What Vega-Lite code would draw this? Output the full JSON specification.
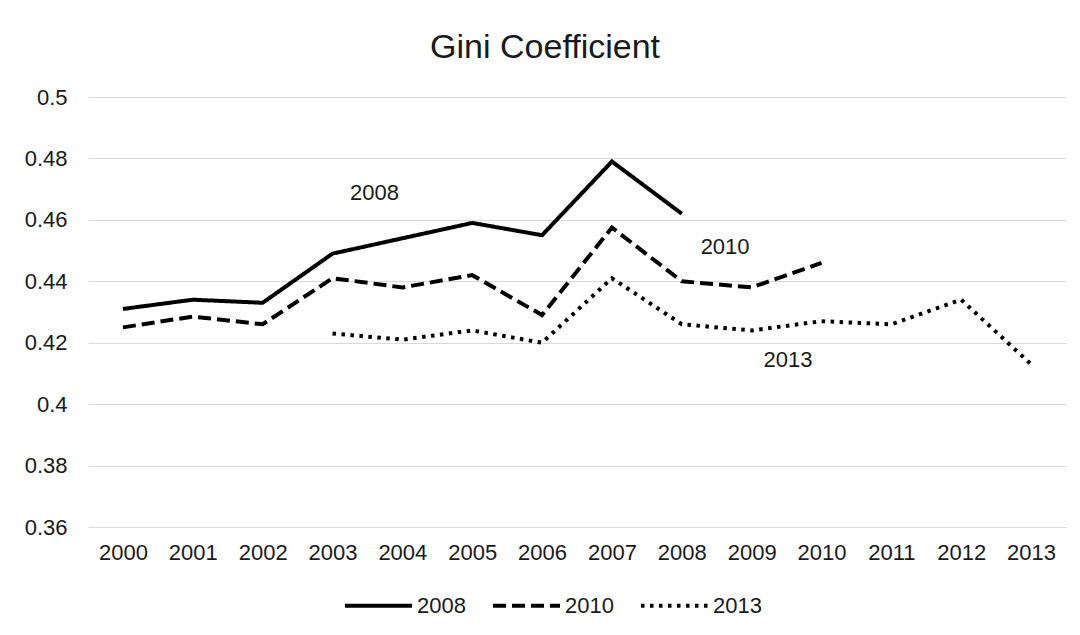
{
  "$schema": "https://vega.github.io/schema/vega-lite/v6.json",
  "autosize": "none",
  "width": 978,
  "height": 430,
  "padding": {"left": 88, "top": 97, "right": 14, "bottom": 108},
  "background": "white",
  "config": {"view": {"stroke": null}, "font": "Liberation Sans"},
  "title": {"text": "Gini Coefficient", "fontSize": 34, "font": "Liberation Sans", "fontWeight": "normal", "color": "#1a1a1a", "frame": "bounds", "anchor": "middle", "offset": 21},
  "datasets": {
    "gini": [
      {"series": "2008", "year": 2000, "value": 0.431},
      {"series": "2008", "year": 2001, "value": 0.434},
      {"series": "2008", "year": 2002, "value": 0.433},
      {"series": "2008", "year": 2003, "value": 0.449},
      {"series": "2008", "year": 2004, "value": 0.454},
      {"series": "2008", "year": 2005, "value": 0.459},
      {"series": "2008", "year": 2006, "value": 0.455},
      {"series": "2008", "year": 2007, "value": 0.479},
      {"series": "2008", "year": 2008, "value": 0.462},
      {"series": "2010", "year": 2000, "value": 0.425},
      {"series": "2010", "year": 2001, "value": 0.4285},
      {"series": "2010", "year": 2002, "value": 0.426},
      {"series": "2010", "year": 2003, "value": 0.441},
      {"series": "2010", "year": 2004, "value": 0.438},
      {"series": "2010", "year": 2005, "value": 0.442},
      {"series": "2010", "year": 2006, "value": 0.429},
      {"series": "2010", "year": 2007, "value": 0.4575},
      {"series": "2010", "year": 2008, "value": 0.440},
      {"series": "2010", "year": 2009, "value": 0.438},
      {"series": "2010", "year": 2010, "value": 0.446},
      {"series": "2013", "year": 2003, "value": 0.423},
      {"series": "2013", "year": 2004, "value": 0.421},
      {"series": "2013", "year": 2005, "value": 0.424},
      {"series": "2013", "year": 2006, "value": 0.420},
      {"series": "2013", "year": 2007, "value": 0.441},
      {"series": "2013", "year": 2008, "value": 0.426},
      {"series": "2013", "year": 2009, "value": 0.424},
      {"series": "2013", "year": 2010, "value": 0.427},
      {"series": "2013", "year": 2011, "value": 0.426},
      {"series": "2013", "year": 2012, "value": 0.434},
      {"series": "2013", "year": 2013, "value": 0.413}
    ],
    "labels": [
      {"label": "2008", "x": 2003.6, "y": 0.4686},
      {"label": "2010", "x": 2008.62, "y": 0.4512},
      {"label": "2013", "x": 2009.52, "y": 0.4143}
    ]
  },
  "layer": [
    {
      "data": {"name": "gini"},
      "mark": {"type": "line", "strokeWidth": 4, "color": "#000000"},
      "encoding": {
        "x": {
          "field": "year", "type": "quantitative",
          "scale": {"domain": [1999.5, 2013.5], "nice": false, "zero": false},
          "axis": {"values": [2000, 2001, 2002, 2003, 2004, 2005, 2006, 2007, 2008, 2009, 2010, 2011, 2012, 2013], "format": "d", "grid": false, "domain": false, "ticks": false, "labelPadding": 15, "labelFontSize": 22, "labelColor": "#1a1a1a", "labelFont": "Liberation Sans", "labelOverlap": false, "labelFlush": false, "title": null}
        },
        "y": {
          "field": "value", "type": "quantitative",
          "scale": {"domain": [0.36, 0.5], "nice": false, "zero": false},
          "axis": {"values": [0.36, 0.38, 0.4, 0.42, 0.44, 0.46, 0.48, 0.5], "format": ".2~f", "grid": true, "gridColor": "#d9d9d9", "gridWidth": 1, "domain": false, "ticks": false, "labelPadding": 21, "labelFontSize": 22, "labelColor": "#1a1a1a", "labelFont": "Liberation Sans", "title": null}
        },
        "strokeDash": {
          "field": "series", "type": "nominal",
          "scale": {"domain": ["2008", "2010", "2013"], "range": [[1, 0], [13, 6], [3.5, 5.5]]},
          "legend": {"orient": "none", "legendX": 255, "legendY": 473, "direction": "horizontal", "title": null, "symbolType": "stroke", "symbolSize": 4489, "symbolStrokeWidth": 4, "symbolStrokeColor": "#000000", "labelFontSize": 22, "labelFont": "Liberation Sans", "labelColor": "#1a1a1a", "labelOffset": 3, "columnPadding": 19}
        }
      }
    },
    {
      "data": {"name": "labels"},
      "mark": {"type": "text", "fontSize": 22, "font": "Liberation Sans", "color": "#1a1a1a", "align": "center", "baseline": "middle"},
      "encoding": {
        "x": {"field": "x", "type": "quantitative"},
        "y": {"field": "y", "type": "quantitative"},
        "text": {"field": "label", "type": "nominal"}
      }
    }
  ]
}
